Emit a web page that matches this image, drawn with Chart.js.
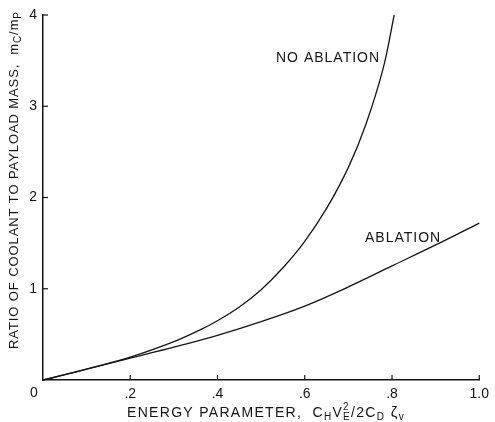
<!DOCTYPE html>
<html>
<head>
<meta charset="utf-8">
<script src="https://cdn.jsdelivr.net/npm/chart.js@4.4.1/dist/chart.umd.min.js"></script>
<style>
  html, body { margin: 0; padding: 0; background: #fff; }
  #wrap { width: 495px; height: 422px; position: relative; }
</style>
</head>
<body>
<div id="wrap"><canvas id="c" width="495" height="422"></canvas></div>
<script>
// ---- data ----
const noAblationX = [0, 0.1, 0.2, 0.3, 0.36, 0.4, 0.45, 0.5, 0.55, 0.6, 0.65, 0.7, 0.74, 0.78, 0.805];
const noAblationY = [0, 0.12, 0.25, 0.42, 0.55, 0.65, 0.8, 0.99, 1.23, 1.52, 1.88, 2.33, 2.8, 3.42, 4.0];
const ablationX = [0, 0.1, 0.2, 0.3, 0.4, 0.5, 0.6, 0.7, 0.8, 0.9, 1.0];
const ablationY = [0, 0.12, 0.24, 0.36, 0.49, 0.64, 0.81, 1.02, 1.25, 1.48, 1.72];
const xTickValues = [0, 0.2, 0.4, 0.6, 0.8, 1.0];
const xTickLabels = ['0', '.2', '.4', '.6', '.8', '1.0'];
const yTickValues = [0, 1, 2, 3, 4];
const yTickLabels = ['', '1', '2', '3', '4'];
const seriesLabels = ['NO ABLATION', 'ABLATION'];

const FONT = '"Liberation Sans", Arial, Helvetica, sans-serif';
const INK = '#141414';

function pts(xs, ys) { return xs.map((x, i) => ({ x: x, y: ys[i] })); }

function drawRich(ctx, segs, cx, baseY) {
  let total = 0;
  const widths = segs.map(s => {
    ctx.font = s.size + 'px ' + FONT;
    return ctx.measureText(s.t).width;
  });
  segs.forEach((s, i) => { if (!s.stack) total += widths[i]; });
  let x = cx - total / 2;
  ctx.textAlign = 'left';
  segs.forEach((s, i) => {
    ctx.font = s.size + 'px ' + FONT;
    ctx.fillText(s.t, x, baseY + (s.dy || 0));
    if (!s.stack) x += widths[i];
  });
}

const decor = {
  id: 'decor',
  afterDraw(chart) {
    const ctx = chart.ctx;
    const xs = chart.scales.x, ys = chart.scales.y;
    const area = chart.chartArea;
    ctx.save();
    ctx.strokeStyle = INK;
    ctx.lineWidth = 1.2;
    xTickValues.forEach(v => {
      if (v === 0) return;
      const px = xs.getPixelForValue(v);
      ctx.beginPath(); ctx.moveTo(px, area.bottom); ctx.lineTo(px, area.bottom - 5); ctx.stroke();
    });
    yTickValues.forEach(v => {
      if (v === 0) return;
      const py = ys.getPixelForValue(v);
      ctx.beginPath(); ctx.moveTo(area.left, py); ctx.lineTo(area.left + 5, py); ctx.stroke();
    });
    ctx.fillStyle = INK;
    ctx.textBaseline = 'alphabetic';
    // origin label
    ctx.font = '14px ' + FONT;
    ctx.textAlign = 'center';
    ctx.fillText(xTickLabels[0], xs.getPixelForValue(0) - 9, 397);
    // series labels
    ctx.textAlign = 'left';
    ctx.letterSpacing = '1px';
    ctx.font = '14px ' + FONT;
    ctx.fillText(seriesLabels[0], 276, 62);
    ctx.fillText(seriesLabels[1], 365, 242);
    // x title
    ctx.letterSpacing = '1.3px';
    drawRich(ctx, [
      { t: 'ENERGY PARAMETER,  C', size: 14 },
      { t: 'H', size: 10, dy: 3 },
      { t: 'V', size: 14 },
      { t: '2', size: 10, dy: -7, stack: true },
      { t: 'E', size: 10, dy: 3 },
      { t: '/2C', size: 14 },
      { t: 'D', size: 10, dy: 3 },
      { t: ' ζ', size: 15 },
      { t: 'v', size: 10, dy: 3 }
    ], 266, 417);
    // y title
    ctx.save();
    ctx.translate(13, 180);
    ctx.rotate(-Math.PI / 2);
    ctx.letterSpacing = '0.9px';
    drawRich(ctx, [
      { t: 'RATIO OF COOLANT TO PAYLOAD MASS,  m', size: 13 },
      { t: 'C', size: 10, dy: 3 },
      { t: '/m', size: 13 },
      { t: 'P', size: 10, dy: 3 }
    ], 0, 5);
    ctx.restore();
    ctx.restore();
  }
};

new Chart(document.getElementById('c'), {
  type: 'line',
  data: {
    datasets: [
      { label: seriesLabels[0], data: pts(noAblationX, noAblationY) },
      { label: seriesLabels[1], data: pts(ablationX, ablationY) }
    ]
  },
  options: {
    responsive: false,
    animation: false,
    devicePixelRatio: 1,
    layout: { padding: { left: 0, top: 15, right: 12, bottom: 0 } },
    elements: {
      line: { borderColor: INK, borderWidth: 1.3, tension: 0.35, fill: false, capBezierPoints: false },
      point: { radius: 0 }
    },
    datasets: { line: { clip: false } },
    plugins: { legend: { display: false }, tooltip: { enabled: false } },
    scales: {
      x: {
        type: 'linear', min: 0, max: 1,
        afterFit(s) { s.height = 42; },
        afterBuildTicks(s) { s.ticks = xTickValues.map(v => ({ value: v })); },
        grid: { display: true, drawOnChartArea: false, drawTicks: false },
        border: { display: true, color: INK, width: 1.5 },
        ticks: {
          padding: 6, color: INK, font: { family: FONT, size: 14 },
          maxRotation: 0, autoSkip: false,
          callback: (v) => { const i = xTickValues.indexOf(v); return i > 0 ? xTickLabels[i] : ''; }
        }
      },
      y: {
        type: 'linear', min: 0, max: 4,
        afterFit(s) { s.width = 43; },
        afterBuildTicks(s) { s.ticks = yTickValues.map(v => ({ value: v })); },
        grid: { display: true, drawOnChartArea: false, drawTicks: false },
        border: { display: true, color: INK, width: 1.5 },
        ticks: {
          padding: 6, color: INK, font: { family: FONT, size: 14 },
          callback: (v) => { const i = yTickValues.indexOf(v); return i >= 0 ? yTickLabels[i] : ''; }
        }
      }
    }
  },
  plugins: [decor]
});
</script>
</body>
</html>
